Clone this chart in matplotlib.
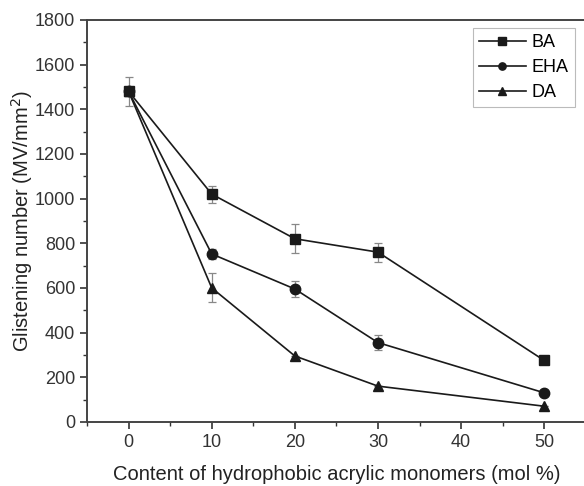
import matplotlib
matplotlib.use("Agg")
import matplotlib.pyplot as plt
from matplotlib.ticker import MultipleLocator

plt.rcParams['font.family'] = ['Liberation Sans', 'DejaVu Sans']

content = [0, 10, 20, 30, 50]
ba = [1480, 1020, 820, 760, 275]
ba_err = [65, 38, 65, 42, 0]
eha = [1480, 752, 595, 355, 130]
eha_err = [0, 22, 38, 32, 12]
da = [1480, 600, 295, 160, 70]
da_err = [0, 65, 0, 0, 0]

series = [("BA", ba, ba_err, "s"), ("EHA", eha, eha_err, "o"), ("DA", da, da_err, "^")]

fig = plt.figure(figsize=(5.84, 4.86), dpi=100)
ax = fig.add_axes([0.149, 0.132, 0.854, 0.827])

for name, vals, err, mk in series:
    ax.errorbar(content, vals, yerr=err, fmt='none', ecolor='#888888',
                elinewidth=0.9, capsize=3, capthick=0.9, zorder=2)
    ax.plot(content, vals, marker=mk, color='#1a1a1a', lw=1.2, ms=7.5,
            label=name, zorder=3)

ax.set_xlim(-5, 55)
ax.set_ylim(0, 1800)
ax.xaxis.set_major_locator(MultipleLocator(10))
ax.xaxis.set_minor_locator(MultipleLocator(5))
ax.yaxis.set_major_locator(MultipleLocator(200))
ax.yaxis.set_minor_locator(MultipleLocator(100))
ax.tick_params(which='major', direction='out', length=5, width=1.2,
               labelsize=13, color='#333333', labelcolor='#333333')
ax.tick_params(which='minor', direction='out', length=3, width=1.0, color='#333333')
for s in ax.spines.values():
    s.set_linewidth(1.4)
    s.set_color('#444444')

ax.set_xlabel("Content of hydrophobic acrylic monomers (mol %)", fontsize=14.5,
              color='#222222', labelpad=10)
ax.set_ylabel("Glistening number (MV/mm$^2$)", fontsize=14.5, color='#222222',
              labelpad=0)

leg = ax.legend(loc='upper right', bbox_to_anchor=(0.985, 0.99), fontsize=13,
                fancybox=False, edgecolor='#aaaaaa', handlelength=2.6,
                markerscale=0.7, borderpad=0.35, labelspacing=0.45,
                handletextpad=0.3, borderaxespad=0.2)
leg.get_frame().set_linewidth(0.8)

fig.savefig("out.png", dpi=100)
